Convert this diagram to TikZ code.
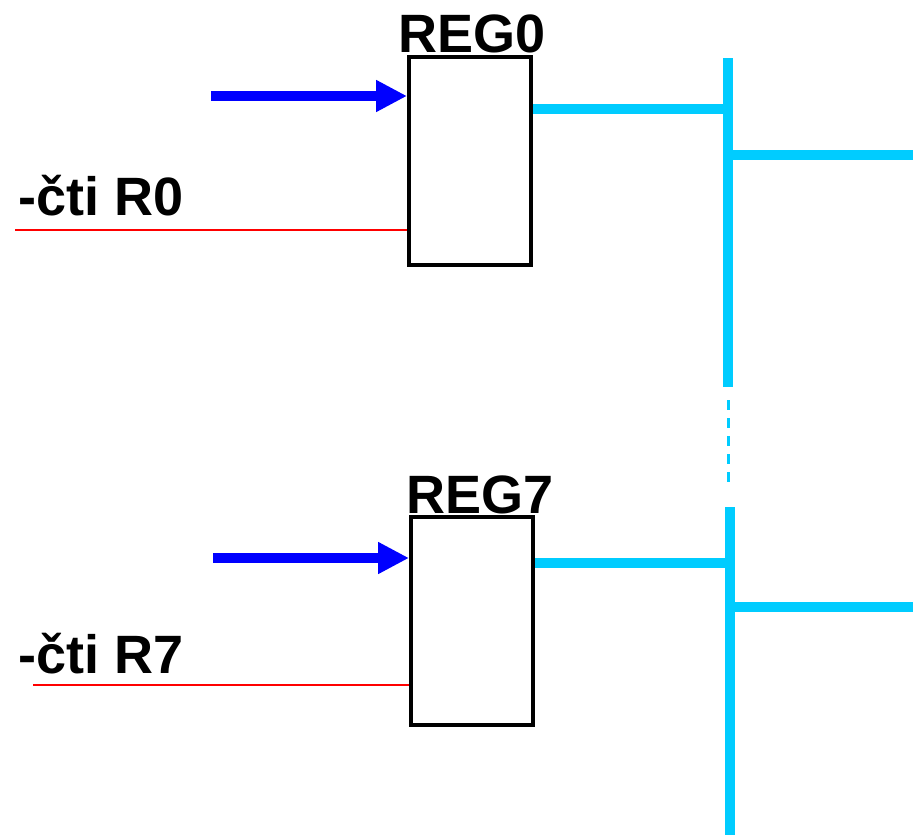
\documentclass[tikz,border=0pt]{standalone}
\usepackage{fontspec}
\setmainfont{Liberation Sans}
\usetikzlibrary{arrows.meta}
\definecolor{busblue}{HTML}{00CCFF}
\begin{document}
\begin{tikzpicture}[x=1pt, y=-1pt, every node/.style={inner sep=0pt}]
    \tikzset{reg/.style={draw=black, line width=4pt, minimum width=122pt, minimum height=208pt},
      lbl/.style={font=\fontsize{54}{60}\selectfont\bfseries},
      load/.style={draw=blue, line width=10pt, -{Triangle[length=31pt,width=30pt]}},
      rd/.style={draw=red, line width=2.5pt},
      bus/.style={draw=busblue, line width=10pt}};
    \useasboundingbox (0,0) rectangle (913,835);
    % registers
    \node[reg] (reg0) at (470,161) {};
    \node[reg] (reg7) at (472,620.5) {};
    \node[lbl, anchor=base] (n0) at (472,52) {REG0};
    \node[lbl, anchor=base] (n7) at (480,513) {REG7};
    \node[lbl, anchor=base west] (c0) at (18,215) {-čti R0};
    \node[lbl, anchor=base west] (c7) at (18,673) {-čti R7};
    % free ends
    \coordinate (in0) at (211,96);
    \coordinate (in7) at (213,558);
    \coordinate (rd0) at (15,230);
    \coordinate (rd7) at (33,685);
    \coordinate (out0) at (728,109);
    \coordinate (out7) at (730,563);
    \coordinate (bt0) at (728,58);
    \coordinate (bb0) at (728,387);
    \coordinate (bt7) at (730,507);
    \coordinate (bb7) at (730,835);
    \coordinate (br0) at (913,155);
    \coordinate (br7) at (913,607);
    {
      \path
        (in0) edge[load] (in0 -| reg0.west)
        (in7) edge[load] (in7 -| reg7.west)
        (rd0) edge[rd] (rd0 -| reg0.west)
        (rd7) edge[rd] (rd7 -| reg7.west)
        (out0 -| reg0.east) edge[bus] (out0)
        (out7 -| reg7.east) edge[bus] (out7)
        (bt0) edge[bus] (bb0)
        (bt7) edge[bus] (bb7)
        (br0 -| bt0) edge[bus] (br0)
        (br7 -| bt7) edge[bus] (br7)
        (bb0) ++(0,13) edge[draw=busblue, line width=3pt, dash pattern=on 10pt off 8pt] (728,482)
        ;
      }
    \end{tikzpicture}
\end{document}
